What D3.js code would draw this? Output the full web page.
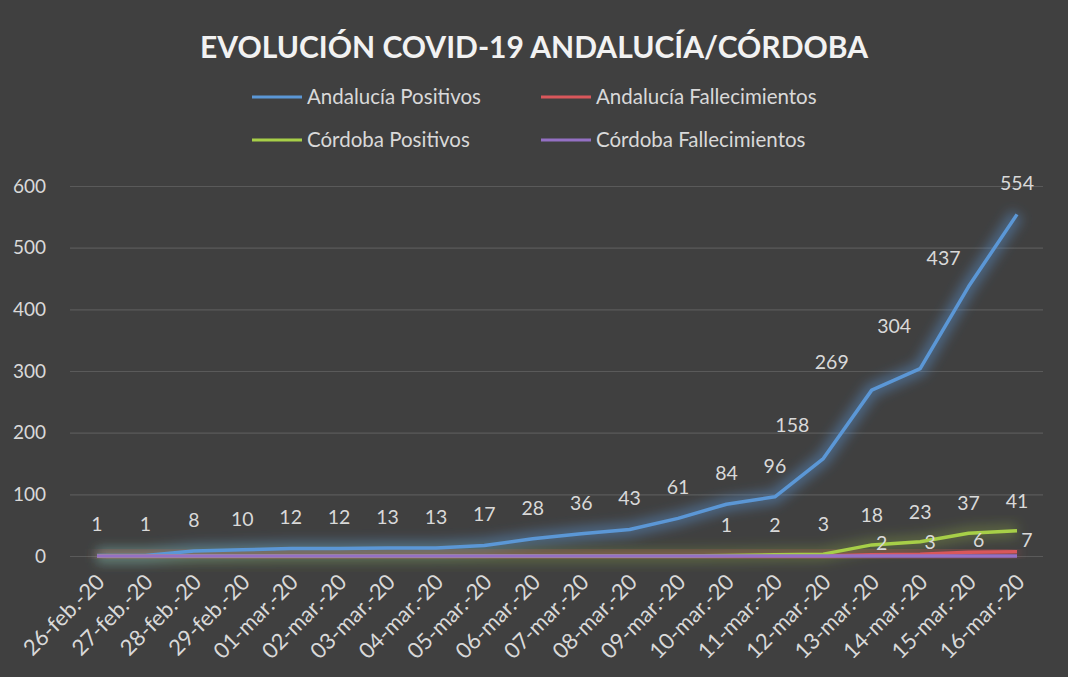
<!DOCTYPE html>
<html>
<head>
<meta charset="utf-8">
<script src="https://cdn.jsdelivr.net/npm/d3@7"></script>
<style>
    body { margin: 0; background: #404040; }
    svg text { font-family: Lato, "Open Sans", sans-serif; fill: #d9d9d9; }
</style>
</head>
<body>
<div id="chart"></div>
<script>
var fechas = ["26-feb.-20", "27-feb.-20", "28-feb.-20", "29-feb.-20", "01-mar.-20", "02-mar.-20",
    "03-mar.-20", "04-mar.-20", "05-mar.-20", "06-mar.-20", "07-mar.-20", "08-mar.-20", "09-mar.-20",
    "10-mar.-20", "11-mar.-20", "12-mar.-20", "13-mar.-20", "14-mar.-20", "15-mar.-20", "16-mar.-20"];
var andaluciaPositivos = [1, 1, 8, 10, 12, 12, 13, 13, 17, 28, 36, 43, 61, 84, 96, 158, 269, 304, 437, 554];
var andaluciaFallecimientos = [0, 0, 0, 0, 0, 0, 0, 0, 0, 0, 0, 0, 0, 0, 0, 0, 2, 3, 6, 7];
var cordobaPositivos = [0, 0, 0, 0, 0, 0, 0, 0, 0, 0, 0, 0, 0, 1, 2, 3, 18, 23, 37, 41];
var cordobaFallecimientos = [0, 0, 0, 0, 0, 0, 0, 0, 0, 0, 0, 0, 0, 0, 0, 0, 0, 0, 0, 0];
var yTicks = [0, 100, 200, 300, 400, 500, 600];

var width = 1068, height = 677;

// series in Excel drawing order (last one on top)
var series = [
    {name: "Andalucía Positivos", values: andaluciaPositivos, color: "#5b97d6", glow: 0.45, dx: 0, dy: -31},
    {name: "Andalucía Fallecimientos", values: andaluciaFallecimientos, color: "#d9575b", glow: 0.35, dx: 10, dy: -12},
    {name: "Córdoba Positivos", values: cordobaPositivos, color: "#a7cf48", glow: 0.25, dx: 0, dy: -30},
    {name: "Córdoba Fallecimientos", values: cordobaFallecimientos, color: "#9470c4", glow: 0.35, dx: 0, dy: -31}
];

// hand nudges for the blue labels on the steep part (index -> [dx, dy])
var labelNudge = {15: [-31, -33], 16: [-40, -28], 17: [-26, -42], 18: [-25, -28]};

var x = d3.scalePoint().domain(fechas).range([97, 1017]);
var y = d3.scaleLinear().domain([0, 600]).range([556, 186]);

var svg = d3.select("#chart").append("svg")
    .attr("width", width)
    .attr("height", height);

svg.append("rect").attr("width", width).attr("height", height).attr("fill", "#404040");

var defs = svg.append("defs");
defs.append("filter").attr("id", "glow")
    .attr("x", "-10%").attr("y", "-60%").attr("width", "120%").attr("height", "220%")
    .append("feGaussianBlur").attr("stdDeviation", 6);

// title
svg.append("text")
    .attr("x", 534).attr("y", 58)
    .attr("text-anchor", "middle")
    .style("font-size", "31px")
    .style("font-weight", "bold")
    .style("fill", "#f2f2f2")
    .attr("textLength", 668)
    .attr("lengthAdjust", "spacingAndGlyphs")
    .text("EVOLUCIÓN COVID-19 ANDALUCÍA/CÓRDOBA");

// legend
var legendPos = [[252, 97], [541, 97], [252, 140], [541, 140]];
var legend = svg.selectAll(".legend")
    .data(series)
    .enter().append("g")
    .attr("class", "legend")
    .attr("transform", function(d, i) { return "translate(" + legendPos[i][0] + "," + legendPos[i][1] + ")"; });
legend.append("line")
    .attr("x1", 0).attr("x2", 50)
    .attr("stroke", function(d) { return d.color; })
    .attr("stroke-width", 3);
legend.append("text")
    .attr("x", 55).attr("dy", "0.35em")
    .style("font-size", "20.5px")
    .text(function(d) { return d.name; });

// y axis + gridlines
var yAxis = svg.append("g")
    .attr("transform", "translate(70,0)")
    .call(d3.axisLeft(y).tickValues(yTicks).tickSize(-973).tickPadding(24));
yAxis.select(".domain").remove();
yAxis.selectAll("line").attr("stroke", "#5a5a5a").attr("stroke-width", 1.2);
yAxis.selectAll("text").style("font-size", "19px").style("fill", "#d9d9d9");

// x axis labels
var xAxis = svg.append("g")
    .attr("transform", "translate(0," + y(0) + ")")
    .call(d3.axisBottom(x).tickSize(0));
xAxis.select(".domain").remove();
xAxis.selectAll("text")
    .attr("y", 0).attr("dy", "0.35em")
    .attr("text-anchor", "end")
    .attr("transform", "translate(3,22) rotate(-45)")
    .style("font-size", "22px")
    .style("fill", "#d9d9d9");

var line = d3.line()
    .x(function(d, i) { return x(fechas[i]); })
    .y(function(d) { return y(d); });

var lines = svg.append("g");
series.forEach(function(s) {
    // soft glow under each line
    lines.append("path")
        .attr("d", line(s.values))
        .attr("fill", "none")
        .attr("stroke", s.color)
        .attr("stroke-width", 14)
        .attr("stroke-opacity", s.glow)
        .attr("stroke-linejoin", "round")
        .attr("filter", "url(#glow)");
});
series.forEach(function(s) {
    lines.append("path")
        .attr("d", line(s.values))
        .attr("fill", "none")
        .attr("stroke", s.color)
        .attr("stroke-width", 3.5)
        .attr("stroke-linejoin", "round");
});

// data labels (only non-zero values carry one)
series.forEach(function(s, si) {
    var pts = s.values.map(function(v, i) { return {v: v, i: i}; })
        .filter(function(p) { return p.v > 0; });
    svg.append("g").selectAll("text")
        .data(pts)
        .enter().append("text")
        .attr("x", function(p) {
            var n = si === 0 && labelNudge[p.i];
            return x(fechas[p.i]) + (n ? n[0] : s.dx);
        })
        .attr("y", function(p) {
            var n = si === 0 && labelNudge[p.i];
            return y(p.v) + (n ? n[1] : s.dy);
        })
        .attr("dy", "0.35em")
        .attr("text-anchor", "middle")
        .style("font-size", "19.5px")
        .text(function(p) { return p.v; });
});
</script>
</body>
</html>
